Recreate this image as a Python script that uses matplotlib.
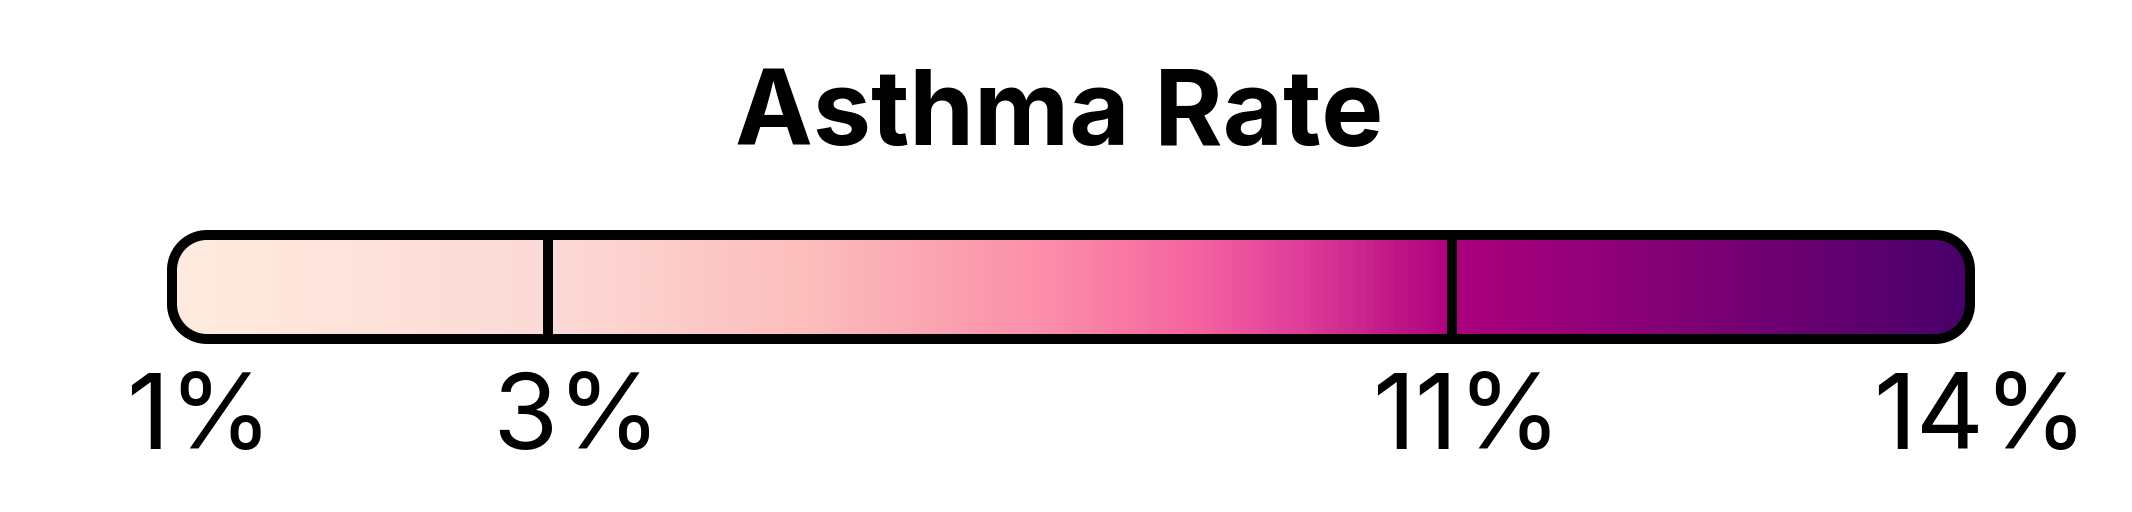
import numpy as np
import matplotlib
matplotlib.use("Agg")
import matplotlib.pyplot as plt
from matplotlib.patches import Polygon
from matplotlib.colors import LinearSegmentedColormap

# ---- data ----
title = "Asthma Rate"
break_values = [1, 3, 11, 14]
break_labels = ["1%", "3%", "11%", "14%"]
# gradient colour stops (fraction along bar, colour)
grad_pos = [0.0, 0.209, 0.355, 0.495, 0.57, 0.625, 0.712, 1.0]
grad_colors = ["#ffebdf", "#fcdad7", "#fcbdbc", "#fb8aa8", "#f5639f", "#e0409a", "#ae017e", "#49006a"]

# ---- layout (pixels) ----
W, H = 2132, 512
bar_left, bar_right = 172, 1970
bar_top, bar_bottom = 235, 339
break_px = [172, 548, 1452, 1970]
label_px = [199, 577, 1467, 1980]
label_baseline = 449
title_x, title_baseline = 1059, 145
radius = 35

plt.rcParams['font.family'] = ['Inter', 'DejaVu Sans']
fig = plt.figure(figsize=(W / 100, H / 100), dpi=100)
fig.patch.set_facecolor("white")

ax = fig.add_axes([0, 0, 1, 1])
ax.set_xlim(0, W)
ax.set_ylim(H, 0)
ax.axis("off")

def rounded_rect(x0, y0, x1, y1, r, n=40):
    pts = []
    corners = [(x1 - r, y0 + r, -90, 0), (x1 - r, y1 - r, 0, 90),
               (x0 + r, y1 - r, 90, 180), (x0 + r, y0 + r, 180, 270)]
    for cx, cy, a0, a1 in corners:
        t = np.radians(np.linspace(a0, a1, n))
        pts.append(np.column_stack([cx + r * np.cos(t), cy + r * np.sin(t)]))
    return np.vstack(pts)

verts = rounded_rect(bar_left, bar_top, bar_right, bar_bottom, radius)
box = Polygon(verts, closed=True, facecolor="none", edgecolor="black",
              linewidth=7.2, joinstyle="round", zorder=5)
ax.add_patch(box)

cmap = LinearSegmentedColormap.from_list("g", list(zip(grad_pos, grad_colors)))
grad = np.linspace(0, 1, 1024)[None, :]
im = ax.imshow(grad, cmap=cmap, extent=(bar_left, bar_right, bar_bottom, bar_top),
               aspect="auto", interpolation="bilinear", zorder=1)
im.set_clip_path(box)
ax.set_xlim(0, W)
ax.set_ylim(H, 0)

# dividers at inner breaks
for v, px in zip(break_values[1:-1], break_px[1:-1]):
    ax.plot([px, px], [bar_top, bar_bottom], color="black", lw=7.2,
            solid_capstyle="butt", zorder=4)

# labels
for lab, px in zip(break_labels, label_px):
    ax.text(px, label_baseline, lab, ha="center", va="baseline",
            fontsize=76, color="black")

ax.text(title_x, title_baseline, title, ha="center", va="baseline",
        fontsize=75, fontweight="bold", color="black")

fig.savefig("out.png", dpi=100, facecolor="white")
